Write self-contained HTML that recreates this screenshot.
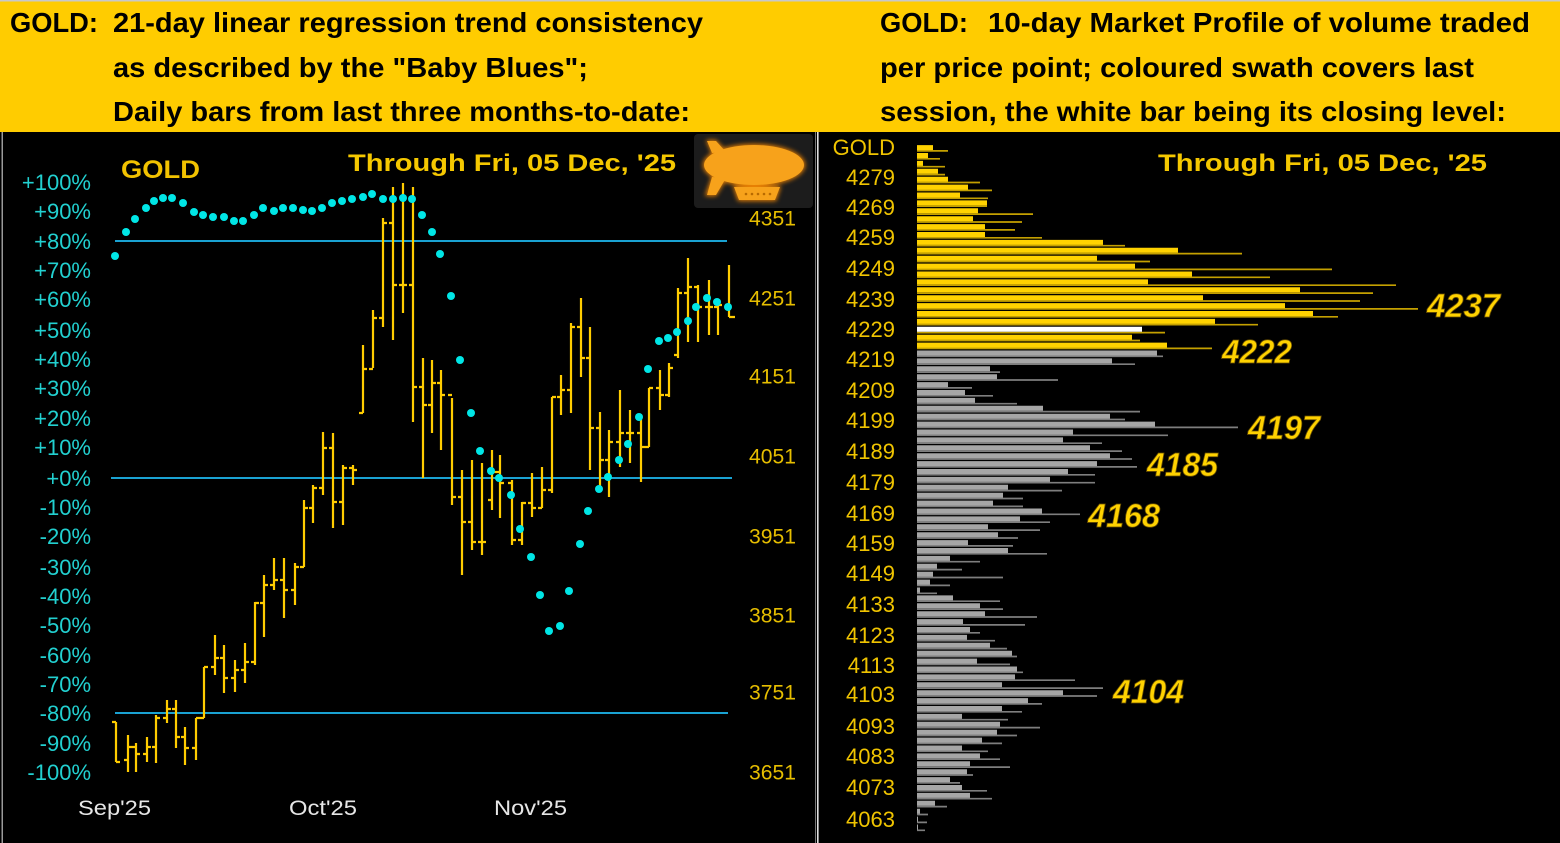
<!DOCTYPE html>
<html><head><meta charset="utf-8"><style>
html,body{margin:0;padding:0;background:#000;}
svg{display:block;}
</style></head><body>
<svg width="1560" height="843" viewBox="0 0 1560 843" xmlns="http://www.w3.org/2000/svg" font-family="'Liberation Sans', sans-serif">
<defs><filter id="glow" x="-30%" y="-30%" width="160%" height="160%"><feGaussianBlur stdDeviation="2.5"/></filter></defs>
<rect x="0" y="0" width="1560" height="843" fill="#000"/>
<!-- header -->
<rect x="0" y="0" width="1560" height="132" fill="#FFCC00"/>
<rect x="0" y="0" width="1560" height="1.5" fill="#C8C8C8"/>
<g font-weight="bold" font-size="28" fill="#000">
<text x="10" y="32" textLength="88" lengthAdjust="spacingAndGlyphs">GOLD:</text>
<text x="113" y="32" textLength="590" lengthAdjust="spacingAndGlyphs">21-day linear regression trend consistency</text>
<text x="113" y="77" textLength="475" lengthAdjust="spacingAndGlyphs">as described by the "Baby Blues";</text>
<text x="113" y="121" textLength="577" lengthAdjust="spacingAndGlyphs">Daily bars from last three months-to-date:</text>
<text x="880" y="32" textLength="88" lengthAdjust="spacingAndGlyphs">GOLD:</text>
<text x="988" y="32" textLength="542" lengthAdjust="spacingAndGlyphs">10-day Market Profile of volume traded</text>
<text x="880" y="77" textLength="594" lengthAdjust="spacingAndGlyphs">per price point; coloured swath covers last</text>
<text x="880" y="121" textLength="626" lengthAdjust="spacingAndGlyphs">session, the white bar being its closing level:</text>
</g>
<!-- borders -->
<rect x="1.5" y="132" width="1.5" height="711" fill="#9a9a9a"/>
<rect x="815" y="132" width="1" height="711" fill="#777"/>
<rect x="817" y="132" width="1.6" height="711" fill="#E0E0E0"/>

<!-- LEFT CHART -->
<text x="121" y="178" font-size="25" font-weight="bold" fill="#F2C200" textLength="79" lengthAdjust="spacingAndGlyphs">GOLD</text>
<text x="348" y="171" font-size="24" font-weight="bold" fill="#F5C800" textLength="328" lengthAdjust="spacingAndGlyphs">Through Fri, 05 Dec, '25</text>

<!-- blimp -->
<rect x="694" y="134" width="119" height="74" rx="4" fill="#1c1c1c"/>
<g fill="#FF8C00" filter="url(#glow)" opacity="0.9">
<ellipse cx="754" cy="165" rx="51" ry="21"/>
<polygon points="706,140 716,140 727,152 712,154"/>
<polygon points="712,176 727,178 716,196 705,196"/>
<path d="M733 186H781L776 201H738Z"/>
</g>
<g fill="#F7A21B">
<ellipse cx="754" cy="165" rx="50" ry="20"/>
<polygon points="707,141 716,141 726,152 712,153"/>
<polygon points="712,177 726,178 716,195 707,195"/>
<path d="M734 187H780L775 200H739Z"/>
</g>
<g fill="#B86A00"><circle cx="746" cy="194" r="1.3"/><circle cx="752" cy="194" r="1.3"/><circle cx="758" cy="194" r="1.3"/><circle cx="764" cy="194" r="1.3"/><circle cx="770" cy="194" r="1.3"/></g>

<!-- percent labels -->
<g font-size="22" fill="#22D0D0" text-anchor="end">
<text x="91" y="190">+100%</text>
<text x="91" y="219">+90%</text>
<text x="91" y="249">+80%</text>
<text x="91" y="278">+70%</text>
<text x="91" y="307">+60%</text>
<text x="91" y="338">+50%</text>
<text x="91" y="367">+40%</text>
<text x="91" y="396">+30%</text>
<text x="91" y="426">+20%</text>
<text x="91" y="455">+10%</text>
<text x="91" y="486">+0%</text>
<text x="91" y="515">-10%</text>
<text x="91" y="544">-20%</text>
<text x="91" y="575">-30%</text>
<text x="91" y="604">-40%</text>
<text x="91" y="633">-50%</text>
<text x="91" y="663">-60%</text>
<text x="91" y="692">-70%</text>
<text x="91" y="721">-80%</text>
<text x="91" y="751">-90%</text>
<text x="91" y="780">-100%</text>
</g>
<!-- price labels -->
<g font-size="21" fill="#E6BE00">
<text x="749" y="225.5" textLength="47" lengthAdjust="spacingAndGlyphs">4351</text>
<text x="749" y="305.5" textLength="47" lengthAdjust="spacingAndGlyphs">4251</text>
<text x="749" y="383.5" textLength="47" lengthAdjust="spacingAndGlyphs">4151</text>
<text x="749" y="463.5" textLength="47" lengthAdjust="spacingAndGlyphs">4051</text>
<text x="749" y="543.5" textLength="47" lengthAdjust="spacingAndGlyphs">3951</text>
<text x="749" y="622.5" textLength="47" lengthAdjust="spacingAndGlyphs">3851</text>
<text x="749" y="699.5" textLength="47" lengthAdjust="spacingAndGlyphs">3751</text>
<text x="749" y="779.5" textLength="47" lengthAdjust="spacingAndGlyphs">3651</text>
</g>
<!-- x labels -->
<g font-size="21" fill="#E6E6E6">
<text x="78" y="815" textLength="73" lengthAdjust="spacingAndGlyphs">Sep'25</text>
<text x="289" y="815" textLength="68" lengthAdjust="spacingAndGlyphs">Oct'25</text>
<text x="494" y="815" textLength="73" lengthAdjust="spacingAndGlyphs">Nov'25</text>
</g>
<!-- horizontal lines -->
<g stroke="#1AA2D2" stroke-width="2">
<line x1="115" y1="241" x2="727" y2="241"/>
<line x1="111" y1="478" x2="732" y2="478"/>
<line x1="115" y1="713" x2="728" y2="713"/>
</g>
<!-- OHLC bars -->
<path fill="none" stroke="#FFCC00" stroke-width="2.2" d="
M116 722V762M112 722H116M116 762H120
M128 735V772M124 760H128M128 747H132
M136 743V772M132 747H136M136 754H140
M147 737V762M143 754H147M147 747H151
M156 715V763M152 747H156M156 718H160
M167 700V723M163 718H167M167 709H171
M176 700V748M172 709H176M176 737H180
M185 727V765M181 737H185M185 748H189
M196 718V760M192 748H196M196 718H200
M204 667V718M200 718H204M204 667H208
M215 635V675M211 667H215M215 658H219
M224 645V693M220 658H224M224 678H228
M235 660V692M231 678H235M235 670H239
M245 643V683M241 670H245M245 662H249
M255 602V665M251 662H255M255 603H259
M264 575V637M260 603H264M264 585H268
M274 558V590M270 585H274M274 580H278
M284 558V618M280 580H284M284 590H288
M295 563V605M291 590H295M295 567H299
M304 500V567M300 567H304M304 508H308
M313 485V523M309 508H313M313 488H317
M323 432V495M319 488H323M323 448H327
M333 433V528M329 448H333M333 502H337
M343 465V525M339 502H343M343 468H347
M353 465V485M349 468H353M353 470H357
M363 345V413M359 413H363M363 369H367
M373 310V368M369 369H373M373 318H377
M383 218V327M379 318H383M383 223H387
M393 187V340M389 223H393M393 285H397
M403 183V313M399 285H403M403 285H407
M413 187V422M409 285H413M413 387H417
M423 358V478M419 387H423M423 405H427
M432 360V433M428 405H432M432 383H436
M441 370V450M437 383H441M441 395H445
M452 398V505M448 395H452M452 497H456
M462 470V575M458 497H462M462 522H466
M472 460V550M468 522H472M472 542H476
M482 463V555M478 542H482M482 542H486
M492 450V510M488 500H492M492 472H496
M500 455V518M496 472H500M500 483H504
M512 480V545M508 483H512M512 540H516
M522 502V545M518 540H522M522 503H526
M532 473V517M528 503H532M532 508H536
M542 467V508M538 508H542M542 490H546
M552 397V493M548 490H552M552 397H556
M561 375V415M557 397H561M561 390H565
M571 323V413M567 390H571M571 327H575
M581 298V377M577 327H581M581 358H585
M590 327V470M586 358H590M590 428H594
M600 412V490M596 428H600M600 460H604
M609 430V497M605 460H609M609 442H613
M620 390V467M616 442H620M620 433H624
M630 410V463M626 433H630M630 433H634
M641 415V482M637 433H641M641 447H645
M649 388V447M645 447H649M649 388H653
M660 370V410M656 388H660M660 395H664
M669 363V397M665 395H669M669 368H673
M678 288V358M674 355H678M678 293H682
M688 258V342M684 293H688M688 287H692
M698 285V342M694 287H698M698 307H702
M709 280V335M705 307H709M709 307H713
M718 300V335M714 307H718M718 305H722
M729 265V317M725 305H729M729 317H735"/>
<!-- baby blues dots -->
<g fill="#00E6E6">
<circle cx="115" cy="256" r="4"/><circle cx="126" cy="232" r="4"/><circle cx="135" cy="219" r="4"/><circle cx="146" cy="208" r="4"/><circle cx="154" cy="201" r="4"/><circle cx="163" cy="198" r="4"/><circle cx="172" cy="198" r="4"/><circle cx="183" cy="203" r="4"/><circle cx="194" cy="212" r="4"/><circle cx="203" cy="215" r="4"/><circle cx="213" cy="217" r="4"/><circle cx="224" cy="217" r="4"/><circle cx="234" cy="221" r="4"/><circle cx="243" cy="221" r="4"/><circle cx="254" cy="215" r="4"/><circle cx="263" cy="208" r="4"/><circle cx="274" cy="211" r="4"/><circle cx="283" cy="208" r="4"/><circle cx="293" cy="208" r="4"/><circle cx="303" cy="210" r="4"/><circle cx="312" cy="211" r="4"/><circle cx="322" cy="208" r="4"/><circle cx="332" cy="203" r="4"/><circle cx="342" cy="201" r="4"/><circle cx="352" cy="199" r="4"/><circle cx="363" cy="197" r="4"/><circle cx="372" cy="194" r="4"/><circle cx="383" cy="199" r="4"/><circle cx="393" cy="199" r="4"/><circle cx="403" cy="198" r="4"/><circle cx="412" cy="199" r="4"/><circle cx="422" cy="215" r="4"/><circle cx="432" cy="232" r="4"/><circle cx="440" cy="254" r="4"/><circle cx="451" cy="296" r="4"/><circle cx="460" cy="360" r="4"/><circle cx="471" cy="413" r="4"/><circle cx="480" cy="451" r="4"/><circle cx="491" cy="471" r="4"/><circle cx="499" cy="478" r="4"/><circle cx="511" cy="495" r="4"/><circle cx="520" cy="529" r="4"/><circle cx="531" cy="557" r="4"/><circle cx="540" cy="595" r="4"/><circle cx="549" cy="631" r="4"/><circle cx="560" cy="626" r="4"/><circle cx="569" cy="591" r="4"/><circle cx="580" cy="544" r="4"/><circle cx="588" cy="511" r="4"/><circle cx="599" cy="489" r="4"/><circle cx="608" cy="477" r="4"/><circle cx="619" cy="460" r="4"/><circle cx="628" cy="444" r="4"/><circle cx="639" cy="417" r="4"/><circle cx="648" cy="369" r="4"/><circle cx="659" cy="341" r="4"/><circle cx="668" cy="338" r="4"/><circle cx="677" cy="332" r="4"/><circle cx="688" cy="321" r="4"/><circle cx="696" cy="307" r="4"/><circle cx="707" cy="298" r="4"/><circle cx="717" cy="302" r="4"/><circle cx="728" cy="307" r="4"/>
</g>

<!-- RIGHT CHART -->
<text x="1158" y="171" font-size="24" font-weight="bold" fill="#F5C800" textLength="329" lengthAdjust="spacingAndGlyphs">Through Fri, 05 Dec, '25</text>
<g font-size="22" fill="#F0C400" text-anchor="end">
<text x="895" y="155">GOLD</text>
<text x="895" y="185">4279</text>
<text x="895" y="215">4269</text>
<text x="895" y="245">4259</text>
<text x="895" y="276">4249</text>
<text x="895" y="307">4239</text>
<text x="895" y="337">4229</text>
<text x="895" y="367">4219</text>
<text x="895" y="398">4209</text>
<text x="895" y="428">4199</text>
<text x="895" y="459">4189</text>
<text x="895" y="490">4179</text>
<text x="895" y="521">4169</text>
<text x="895" y="551">4159</text>
<text x="895" y="581">4149</text>
<text x="895" y="612">4133</text>
<text x="895" y="643">4123</text>
<text x="895" y="673">4113</text>
<text x="895" y="702">4103</text>
<text x="895" y="734">4093</text>
<text x="895" y="764">4083</text>
<text x="895" y="795">4073</text>
<text x="895" y="827">4063</text>
</g>
<!-- profile thin lines (yellow) -->
<path fill="none" stroke="#C4A000" stroke-width="1.7" d="
M917 150.9H948M917 158.8H940M917 166.7H945M917 174.6H945M917 182.5H980M917 190.4H992M917 198.3H988M917 206.2H987M917 214.1H1033M917 222H1022M917 229.9H1015M917 237.8H1042M917 245.7H1125M917 253.6H1242M917 261.5H1150M917 269.4H1332M917 277.3H1270M917 285.2H1396M917 293.1H1373M917 301H1360M917 308.9H1418M917 316.8H1338M917 324.7H1258M917 332.6H1165M917 340.5H1140M917 348.4H1212"/>
<!-- profile thick (yellow) -->
<path fill="none" stroke="#FFD200" stroke-width="5" d="
M917 147.6H933M917 155.5H928M917 163.4H923M917 171.3H938M917 179.2H948M917 187.1H968M917 195H960M917 202.9H987M917 210.8H978M917 218.7H973M917 226.6H985M917 234.5H985M917 242.4H1103M917 250.3H1178M917 258.2H1097M917 266.1H1135M917 274H1192M917 281.9H1148M917 289.8H1300M917 297.7H1203M917 305.6H1285M917 313.5H1313M917 321.4H1215M917 337.2H1132M917 345.1H1167"/>
<path fill="none" stroke="#FFFFFF" stroke-width="5" d="M917 329.3H1142"/>
<!-- profile thin (gray) -->
<path fill="none" stroke="#7E7E7E" stroke-width="1.7" d="
M917 356.3H1163M917 364.2H1135M917 372.1H1000M917 380H1058M917 387.9H972M917 395.8H993M917 403.7H1017M917 411.6H1140M917 419.5H1125M917 427.4H1238M917 435.3H1168M917 443.2H1102M917 451.1H1122M917 459H1132M917 466.9H1137M917 474.8H1095M917 482.7H1095M917 490.6H1062M917 498.5H1023M917 506.4H1023M917 514.3H1080M917 522.2H1050M917 530.1H1040M917 538H1018M917 545.9H1013M917 553.8H1047M917 561.7H980M917 569.6H962M917 577.5H1003M917 585.4H950M917 593.3H937M917 601.2H1000M917 609.1H1003M917 617H1037M917 624.9H1025M917 632.8H980M917 640.7H995M917 648.6H1007M917 656.5H1017M917 664.4H1010M917 672.3H1023M917 680.2H1075M917 688.1H1103M917 696H1097M917 703.9H1042M917 711.8H1022M917 719.7H1008M917 727.6H1040M917 735.5H1017M917 743.4H1002M917 751.3H988M917 759.2H1000M917 767.1H1010M917 775H973M917 782.9H960M917 790.8H987M917 798.7H992M917 806.6H947M917 814.5H928M917 822.4H927M917 830.3H925"/>
<!-- profile thick (gray) -->
<path fill="none" stroke="#A6A6A6" stroke-width="5" d="
M917 353H1157M917 360.9H1112M917 368.8H990M917 376.7H997M917 384.6H948M917 392.5H965M917 400.4H975M917 408.3H1043M917 416.2H1110M917 424.1H1155M917 432H1073M917 439.9H1063M917 447.8H1090M917 455.7H1110M917 463.6H1097M917 471.5H1068M917 479.4H1050M917 487.3H1008M917 495.2H1003M917 503.1H993M917 511H1042M917 518.9H1020M917 526.8H988M917 534.7H998M917 542.6H968M917 550.5H1008M917 558.4H950M917 566.3H937M917 574.2H933M917 582.1H930M917 590H920M917 597.9H953M917 605.8H980M917 613.7H985M917 621.6H963M917 629.5H970M917 637.4H967M917 645.3H990M917 653.2H1012M917 661.1H977M917 669H1017M917 676.9H1015M917 684.8H1002M917 692.7H1063M917 700.6H1028M917 708.5H1002M917 716.4H962M917 724.3H1000M917 732.2H997M917 740.1H982M917 748H962M917 755.9H980M917 763.8H970M917 771.7H967M917 779.6H950M917 787.5H962M917 795.4H970M917 803.3H935M917 811.2H920M917 819.1H918M917 827H918"/>
<!-- big labels -->
<g font-size="33" font-weight="bold" font-style="italic" fill="#FFD200" stroke="#6a5000" stroke-width="0.8">
<text x="1427" y="317" textLength="73" lengthAdjust="spacingAndGlyphs">4237</text>
<text x="1222" y="363" textLength="70" lengthAdjust="spacingAndGlyphs">4222</text>
<text x="1248" y="439" textLength="72" lengthAdjust="spacingAndGlyphs">4197</text>
<text x="1147" y="476" textLength="71" lengthAdjust="spacingAndGlyphs">4185</text>
<text x="1088" y="527" textLength="72" lengthAdjust="spacingAndGlyphs">4168</text>
<text x="1113" y="703" textLength="71" lengthAdjust="spacingAndGlyphs">4104</text>
</g>
</svg>
</body></html>
